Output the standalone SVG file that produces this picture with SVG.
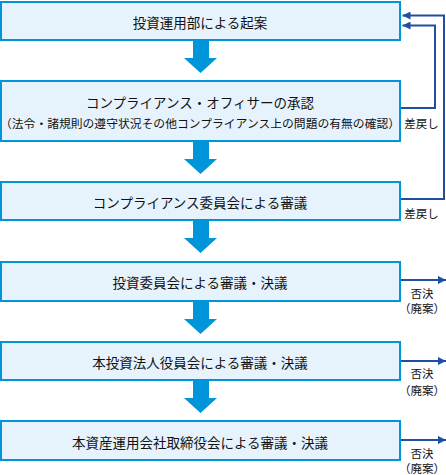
<svg xmlns="http://www.w3.org/2000/svg" width="446" height="475" viewBox="0 0 446 475">
<defs>
<style>
.box{fill:#e6f3fc;stroke:#0095db;stroke-width:2}
.t{font-family:"Noto Sans CJK JP","Noto Sans",sans-serif;fill:#111;text-anchor:middle;dominant-baseline:central}
.m{font-size:13.5px}
.s{font-size:11.8px}
.l{font-size:11.5px}
.down{fill:#0095db}
.fb{fill:none;stroke:#1f4ea3;stroke-width:2}
</style>
<marker id="ah" viewBox="0 0 8 8" refX="8" refY="4" markerWidth="8" markerHeight="8" markerUnits="userSpaceOnUse" orient="auto">
<path d="M0,0 L8,4 L0,8 Z" fill="#1f4ea3"/>
</marker>
</defs>
<g id="n1"><rect class="box" x="1" y="2" width="399" height="38"/><text class="t m" x="200" y="21.5">投資運用部による起案</text></g>
<g id="n2"><rect class="box" x="1" y="81" width="399" height="60"/><text class="t m" x="200" y="102">コンプライアンス・オフィサーの承認</text><text class="t s" x="200" y="122">（法令・諸規則の遵守状況その他コンプライアンス上の問題の有無の確認）</text></g>
<g id="n3"><rect class="box" x="1" y="182" width="399" height="38"/><text class="t m" x="200" y="202">コンプライアンス委員会による審議</text></g>
<g id="n4"><rect class="box" x="1" y="262" width="399" height="39"/><text class="t m" x="200" y="282">投資委員会による審議・決議</text></g>
<g id="n5"><rect class="box" x="1" y="342" width="399" height="38"/><text class="t m" x="200" y="362">本投資法人役員会による審議・決議</text></g>
<g id="n6"><rect class="box" x="1" y="421" width="399" height="39"/><text class="t m" x="200" y="442">本資産運用会社取締役会による審議・決議</text></g>
<g id="connectors">
<polygon class="down" points="193,41 209,41 209,58 217,58 200.5,73 184,58 193,58"/>
<polygon class="down" points="193,142 209,142 209,159 217,159 200.5,174 184,159 193,159"/>
<polygon class="down" points="193,221 209,221 209,238 217,238 200.5,253 184,238 193,238"/>
<polygon class="down" points="193,302 209,302 209,319 217,319 200.5,334 184,319 193,319"/>
<polygon class="down" points="193,381 209,381 209,398 217,398 200.5,413 184,398 193,398"/>
<path class="fb" d="M401,108 H435 V25.5 H402.5" marker-end="url(#ah)"/>
<path class="fb" d="M401,199 H444 V15.5 H402.5" marker-end="url(#ah)"/>
<path class="fb" d="M401,280 H446" marker-end="url(#ah)"/>
<path class="fb" d="M401,361 H446" marker-end="url(#ah)"/>
<path class="fb" d="M401,440 H446" marker-end="url(#ah)"/>
<text class="t l" x="421.5" y="123">差戻し</text>
<text class="t l" x="421.5" y="213">差戻し</text>
<text class="t l" x="422" y="293">否決</text>
<text class="t l" x="422" y="308">（廃案）</text>
<text class="t l" x="422" y="373">否決</text>
<text class="t l" x="422" y="390">（廃案）</text>
<text class="t l" x="422" y="453">否決</text>
<text class="t l" x="422" y="468">（廃案）</text>
</g>
</svg>
